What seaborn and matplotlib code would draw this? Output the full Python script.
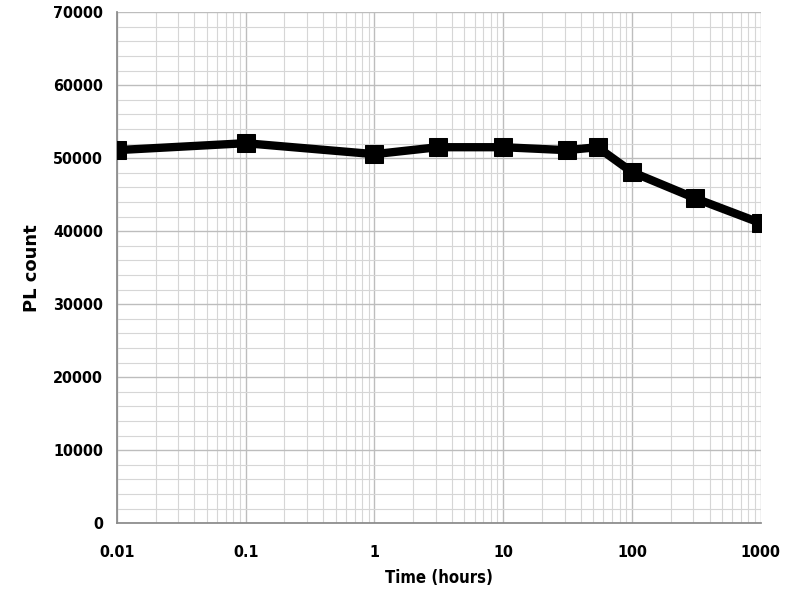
import pandas as pd
import seaborn as sns
import matplotlib.pyplot as plt
from matplotlib.ticker import FixedLocator, LogLocator, NullFormatter, MultipleLocator

time_hours = [0.01, 0.1, 1, 3.1, 10, 31, 54, 100, 310, 1000]
pl_count = [51100, 52050, 50550, 51500, 51500, 51100, 51500, 48100, 44500, 41100]
x_ticks = [0.01, 0.1, 1, 10, 100, 1000]
x_labels = ["0.01", "0.1", "1", "10", "100", "1000"]

df = pd.DataFrame({"time": time_hours, "count": pl_count})

sns.set_theme(style="white")
plt.rcParams["font.family"] = ["DejaVu Sans"]
plt.rcParams["font.stretch"] = "condensed"

fig = plt.figure(figsize=(7.9, 6.07), dpi=100)
ax = fig.add_axes([0.148, 0.138, 0.815, 0.842])

ax.set_xscale("log")
sns.lineplot(data=df, x="time", y="count", ax=ax, color="black", linewidth=6,
             marker="s", markersize=13, markeredgecolor="black", zorder=5)

ax.set_xlim(0.01, 1000)
ax.set_ylim(0, 70000)
ax.xaxis.set_major_locator(FixedLocator(x_ticks))
ax.set_xticklabels(x_labels)
ax.xaxis.set_minor_locator(LogLocator(base=10, subs=range(2, 10)))
ax.xaxis.set_minor_formatter(NullFormatter())
ax.yaxis.set_major_locator(MultipleLocator(10000))
ax.yaxis.set_minor_locator(MultipleLocator(2000))

ax.grid(True, which="major", color="#bdbdbd", linewidth=1)
ax.grid(True, which="minor", color="#d6d6d6", linewidth=0.8)
ax.tick_params(which="both", length=0)
ax.tick_params(axis="x", pad=16, labelsize=11.5, labelcolor="black")
ax.tick_params(axis="y", pad=10, labelsize=11.5, labelcolor="black")
for t in ax.get_xticklabels() + ax.get_yticklabels():
    t.set_fontweight("bold")

for side in ["top", "right"]:
    ax.spines[side].set_visible(False)
for side in ["left", "bottom"]:
    ax.spines[side].set_color("#8a8a8a")

ax.set_xlabel("Time (hours)", fontsize=12, fontweight="bold", color="black")
ax.xaxis.set_label_coords(0.5, -0.09)
ax.set_ylabel("PL count", fontsize=13, fontweight="bold", color="black",
              fontstretch="normal")
ax.yaxis.set_label_coords(-0.118, 0.5)

plt.savefig("out.png", dpi=100)
